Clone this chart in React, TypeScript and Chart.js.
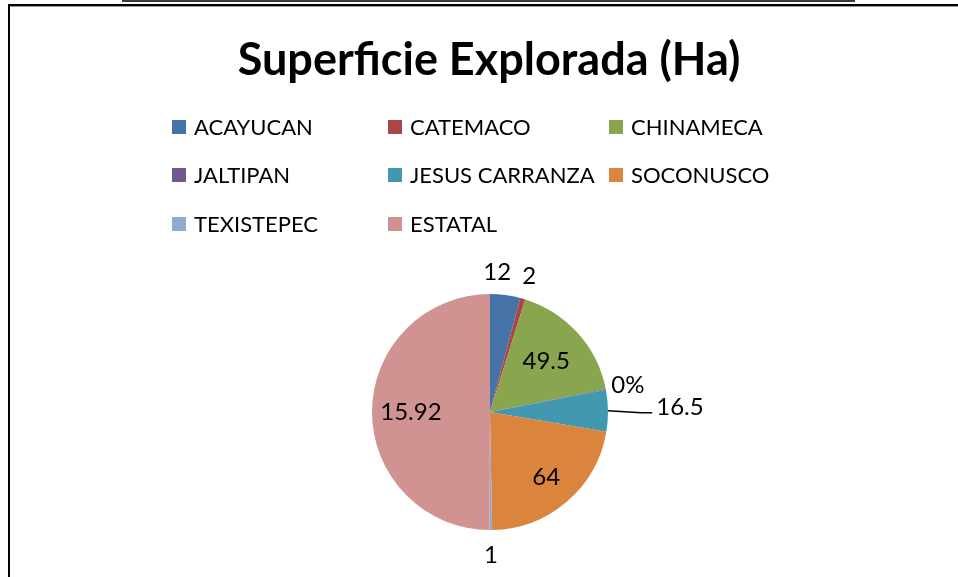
import React, { useEffect, useRef } from "react";
import { Chart, registerables } from "chart.js";

Chart.register(...registerables);

const categories = [
  "ACAYUCAN",
  "CATEMACO",
  "CHINAMECA",
  "JALTIPAN",
  "JESUS CARRANZA",
  "SOCONUSCO",
  "TEXISTEPEC",
  "ESTATAL",
];
const values = [12, 2, 49.5, 0.3, 16.5, 64, 1, 145];
const valueLabels = ["12", "2", "49.5", "0%", "16.5", "64", "1", "15.92"];
const colors = [
  "#4572A7",
  "#AA4643",
  "#89A54E",
  "#71588F",
  "#4198AF",
  "#DB843D",
  "#93A9CF",
  "#D19392",
];
const titleText = "Superficie Explorada (Ha)";

const FONT = "Lato, 'Open Sans', sans-serif";

// label placement relative to each slice: radius factor and small pixel nudge
const labelPlacement = [
  { r: 1.19, dx: -11, dy: 0, leader: false },
  { r: 1.2, dx: 0, dy: 0, leader: false },
  { r: 0.64, dx: 0, dy: 0, leader: false },
  { r: 1.19, dx: 0, dy: 0, leader: false },
  { r: 1.61, dx: 0, dy: -3, leader: true },
  { r: 0.73, dx: 0, dy: 0, leader: false },
  { r: 1.21, dx: 0, dy: 0, leader: false },
  { r: 0.67, dx: 0, dy: 0, leader: false },
];

const framePlugin = {
  id: "frame",
  beforeDraw(chart: any) {
    const ctx = chart.ctx;
    ctx.save();
    ctx.fillStyle = "#fff";
    ctx.fillRect(0, 0, chart.width, chart.height);
    ctx.fillStyle = "#3a3a3a";
    ctx.fillRect(122, 0, 733, 2);
    ctx.fillStyle = "#000";
    ctx.fillRect(8, 4, chart.width - 8, 2);
    ctx.fillRect(8, 4, 2, chart.height - 4);
    ctx.fillStyle = "#9a9a9a";
    ctx.fillRect(10, 6, chart.width - 10, 1);
    // title
    ctx.fillStyle = "#000";
    ctx.font = `bold 45px ${FONT}`;
    ctx.textAlign = "center";
    ctx.textBaseline = "middle";
    ctx.fillText(titleText, 489, 60);
    ctx.restore();
  },
};

const gridLegendPlugin = {
  id: "gridLegend",
  afterDraw(chart: any) {
    const ctx = chart.ctx;
    const cols = [172, 388, 609];
    const rows = [127, 175, 224];
    const labels = chart.data.labels as string[];
    const bg = chart.data.datasets[0].backgroundColor as string[];
    ctx.save();
    ctx.font = `22px ${FONT}`;
    ctx.textBaseline = "middle";
    ctx.textAlign = "left";
    labels.forEach((lab, i) => {
      const x = cols[i % 3];
      const y = rows[Math.floor(i / 3)];
      ctx.fillStyle = bg[i];
      ctx.fillRect(x, y - 7, 14, 14);
      ctx.fillStyle = "#000";
      ctx.fillText(lab, x + 22, y + 1);
    });
    ctx.restore();
  },
};

const sliceLabelPlugin = {
  id: "sliceLabels",
  afterDatasetsDraw(chart: any) {
    const ctx = chart.ctx;
    const meta = chart.getDatasetMeta(0);
    ctx.save();
    ctx.font = `24px ${FONT}`;
    ctx.textBaseline = "middle";
    ctx.textAlign = "center";
    ctx.fillStyle = "#000";
    meta.data.forEach((arc: any, i: number) => {
      const p = labelPlacement[i];
      const { x, y, startAngle, endAngle, outerRadius } = arc.getProps(
        ["x", "y", "startAngle", "endAngle", "outerRadius"],
        true
      );
      const mid = (startAngle + endAngle) / 2;
      const lx = x + Math.cos(mid) * outerRadius * p.r + p.dx;
      const ly = y + Math.sin(mid) * outerRadius * p.r + p.dy;
      const txt = valueLabels[i];
      if (p.leader) {
        const w = ctx.measureText(txt).width;
        const left = lx - w / 2;
        ctx.strokeStyle = "#000";
        ctx.lineWidth = 1.5;
        ctx.beginPath();
        ctx.moveTo(x + Math.cos(mid) * outerRadius, y + Math.sin(mid) * outerRadius);
        ctx.lineTo(left - 15, ly + 6);
        ctx.lineTo(left - 4, ly + 6);
        ctx.stroke();
      }
      ctx.fillText(txt, lx, ly);
    });
    ctx.restore();
  },
};

export default function App() {
  const ref = useRef<HTMLCanvasElement | null>(null);
  useEffect(() => {
    if (!ref.current) return;
    const chart = new Chart(ref.current, {
      type: "pie",
      data: {
        labels: categories,
        datasets: [
          {
            data: values,
            backgroundColor: colors,
            borderWidth: 0,
          },
        ],
      },
      options: {
        responsive: false,
        animation: false,
        layout: { padding: { top: 294, left: 372, right: 350, bottom: 47 } },
        plugins: {
          legend: { display: false },
          tooltip: { enabled: false },
          title: { display: false },
        },
      },
      plugins: [framePlugin, gridLegendPlugin, sliceLabelPlugin],
    });
    return () => chart.destroy();
  }, []);
  return (
    <div style={{ position: "absolute", left: 0, top: 0, width: 958, height: 577 }}>
      <canvas ref={ref} width={958} height={577} />
    </div>
  );
}
